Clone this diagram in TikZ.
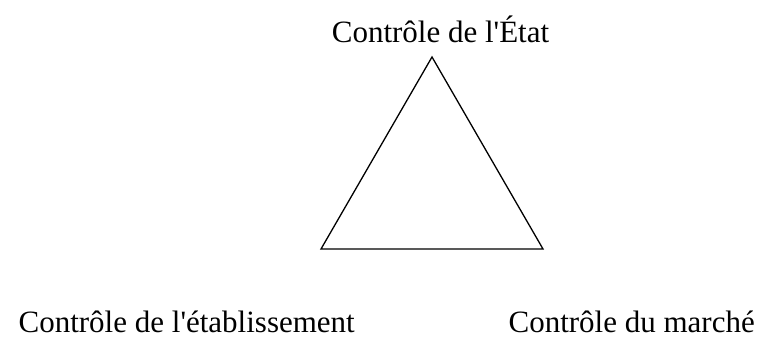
\documentclass[tikz,border=0pt]{standalone}
\usepackage{fontspec}
\setmainfont{Liberation Serif}
\begin{document}
\begin{tikzpicture}[x=1pt,y=1pt,
  lbl/.style={inner sep=0pt,font=\fontsize{31}{36}\selectfont},
  edge/.style={line width=1.3pt,line join=miter}]
\useasboundingbox (0,0) rectangle (757,339);
\coordinate (A) at (432,282);
\coordinate (B) at (321,90);
\coordinate (C) at (543,90);
\draw[edge] (A) -- (B) -- (C) -- cycle;
\node[lbl,anchor=base] (top) at (440.5,296) {Contrôle de l\textquotesingle État};
\node[lbl,anchor=base east] (bl) at (355,6) {Contrôle de l\textquotesingle établissement};
\node[lbl,anchor=base east] (br) at (755,6) {Contrôle du marché};
\end{tikzpicture}
\end{document}
